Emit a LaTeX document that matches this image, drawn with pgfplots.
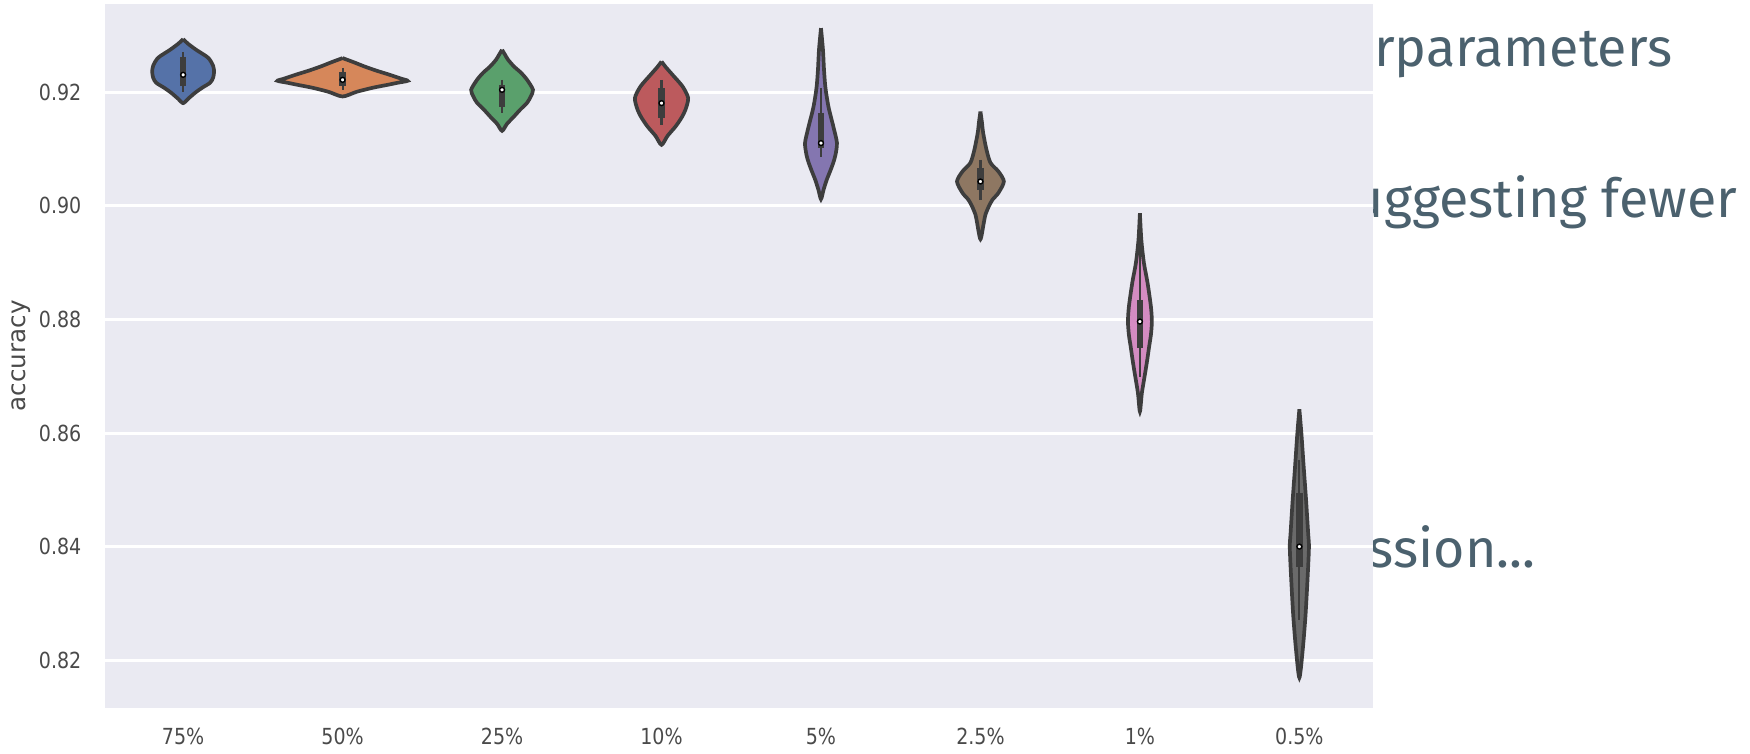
\documentclass[border=0pt]{standalone}
\usepackage{pgfplots}
\pgfplotsset{compat=1.18}
\usepackage{fontspec}
\setmainfont{DejaVu Sans}
\newfontfamily\tickfont[FakeStretch=0.86]{DejaVu Sans}
\newfontfamily\slidefont{Fira Sans}

\definecolor{facebg}{HTML}{EAEAF2}
\definecolor{vedge}{HTML}{3D3D3D}
\definecolor{labelc}{HTML}{4A4A4A}
\definecolor{slidec}{HTML}{4B616E}
\definecolor{vblue}{HTML}{5572A8}
\definecolor{vorange}{HTML}{D6875A}
\definecolor{vgreen}{HTML}{5AA06C}
\definecolor{vred}{HTML}{BC5A5D}
\definecolor{vpurple}{HTML}{8476B0}
\definecolor{vbrown}{HTML}{8E7762}
\definecolor{vpink}{HTML}{D48CC2}
\definecolor{vgrey}{HTML}{6A6A6A}

\pgfplotsset{
  violin/.style={draw=vedge, line width=1.05pt, fill=#1, smooth, tension=0.45},
  whisk/.style={vedge, line width=0.6pt, forget plot},
  vbox/.style={vedge, line width=1.8pt, forget plot},
  vmed/.style={only marks, mark=*, mark size=0.7pt, mark options={fill=white, draw=none}},
}

\begin{document}
\begin{tikzpicture}
\useasboundingbox (0cm,0cm) rectangle (17.5cm,7.53cm);

% slide text partly hidden behind the chart
\begin{scope}
  \clip (13.73cm,0cm) rectangle (17.5cm,7.53cm);
  \node[anchor=base west, inner sep=0pt, text=slidec, font=\slidefont\fontsize{15.3}{18}\selectfont] at (13.735cm,6.86cm) {rparameters};
  \node[anchor=base east, inner sep=0pt, text=slidec, font=\slidefont\fontsize{15.3}{18}\selectfont] at (17.38cm,5.35cm) {uggesting fewer};
  \node[anchor=base east, inner sep=0pt, text=slidec, font=\slidefont\fontsize{15.3}{18}\selectfont] at (15.36cm,1.86cm) {ssion...};
\end{scope}

\begin{axis}[
  at={(1.05cm,0.453cm)}, anchor=south west,
  scale only axis, width=12.677cm, height=7.037cm,
  xmin=-0.49, xmax=7.46, ymin=0.8117, ymax=0.9355,
  axis background/.style={fill=facebg},
  axis line style={draw=none},
  major tick length=0pt,
  ymajorgrids, grid style={white, line width=0.85pt},
  xtick={0,1,2,3,4,5,6,7},
  xticklabels={75\%,50\%,25\%,10\%,5\%,2.5\%,1\%,0.5\%},
  ytick={0.82,0.84,0.86,0.88,0.90,0.92},
  yticklabels={0.82,0.84,0.86,0.88,0.90,0.92},
  /pgf/number format/assume math mode=true,
  ticklabel style={font=\tickfont\fontsize{6.3}{7}\selectfont, text=labelc},
  yticklabel style={inner sep=0pt, xshift=-2.3mm},
  xticklabel style={inner sep=0pt, yshift=-2.0mm},
  ylabel={accuracy},
  ylabel style={at={(axis description cs:-0.066,0.5)}, anchor=center,
    font=\fontsize{7}{8}\selectfont, text=labelc},
  clip=false,
]

% 75%
\addplot[violin=vblue] table[x expr=\thisrow{d}+0, y=y] {
d y
0 0.92933
-0.031 0.92850
-0.082 0.92744
-0.157 0.92604
-0.188 0.92463
-0.194 0.92357
-0.188 0.92252
-0.169 0.92164
-0.119 0.92076
-0.075 0.91988
-0.031 0.91882
0 0.91806
0.031 0.91882
0.075 0.91988
0.119 0.92076
0.169 0.92164
0.188 0.92252
0.194 0.92357
0.188 0.92463
0.157 0.92604
0.082 0.92744
0.031 0.92850
0 0.92933
};
\addplot[whisk] coordinates {(0,0.92709) (0,0.92005)};
\addplot[vbox] coordinates {(0,0.92621) (0,0.92111)};
\addplot[vmed] coordinates {(0,0.92304)};

% 50%
\addplot[violin=vorange] table[x expr=\thisrow{d}+1, y=y] {
d y
0 0.92598
-0.063 0.92533
-0.138 0.92450
-0.215 0.92375
-0.296 0.92304
-0.370 0.92234
-0.408 0.92199
-0.345 0.92164
-0.282 0.92128
-0.188 0.92076
-0.088 0.92005
0 0.91923
0.088 0.92005
0.188 0.92076
0.282 0.92128
0.345 0.92164
0.408 0.92199
0.370 0.92234
0.296 0.92304
0.215 0.92375
0.138 0.92450
0.063 0.92533
0 0.92598
};
\addplot[whisk] coordinates {(1,0.92428) (1,0.92040)};
\addplot[vbox] coordinates {(1,0.92357) (1,0.92111)};
\addplot[vmed] coordinates {(1,0.92216)};

% 25%
\addplot[violin=vgreen] table[x expr=\thisrow{d}+2, y=y] {
d y
0 0.92744
-0.019 0.92656
-0.038 0.92568
-0.075 0.92450
-0.119 0.92340
-0.157 0.92216
-0.194 0.92040
-0.179 0.91917
-0.157 0.91812
-0.113 0.91689
-0.073 0.91565
-0.031 0.91442
0 0.91319
0.031 0.91442
0.073 0.91565
0.113 0.91689
0.157 0.91812
0.179 0.91917
0.194 0.92040
0.157 0.92216
0.119 0.92340
0.075 0.92450
0.038 0.92568
0.019 0.92656
0 0.92744
};
\addplot[whisk] coordinates {(2,0.92216) (2,0.91636)};
\addplot[vbox] coordinates {(2,0.92128) (2,0.91741)};
\addplot[vmed] coordinates {(2,0.92040)};

% 10%
\addplot[violin=vred] table[x expr=\thisrow{d}+3, y=y] {
d y
0 0.92538
-0.025 0.92445
-0.069 0.92304
-0.132 0.92099
-0.167 0.91894
-0.150 0.91689
-0.125 0.91548
-0.088 0.91395
-0.038 0.91231
0 0.91073
0.038 0.91231
0.088 0.91395
0.125 0.91548
0.150 0.91689
0.167 0.91894
0.132 0.92099
0.069 0.92304
0.025 0.92445
0 0.92538
};
\addplot[whisk] coordinates {(3,0.92216) (3,0.91425)};
\addplot[vbox] coordinates {(3,0.92076) (3,0.91548)};
\addplot[vmed] coordinates {(3,0.91806)};

% 5%
\addplot[violin=vpurple] table[x expr=\thisrow{d}+4, y=y] {
d y
0 0.93126
-0.0125 0.92744
-0.019 0.92392
-0.028 0.92076
-0.047 0.91741
-0.078 0.91389
-0.100 0.91108
-0.091 0.90897
-0.077 0.90756
-0.056 0.90598
-0.036 0.90457
-0.016 0.90281
0 0.90117
0.016 0.90281
0.036 0.90457
0.056 0.90598
0.077 0.90756
0.091 0.90897
0.100 0.91108
0.078 0.91389
0.047 0.91741
0.028 0.92076
0.019 0.92392
0.0125 0.92744
0 0.93126
};
\addplot[whisk] coordinates {(4,0.92076) (4,0.90862)};
\addplot[vbox] coordinates {(4,0.91636) (4,0.91020)};
\addplot[vmed] coordinates {(4,0.91103)};

% 2.5%
\addplot[violin=vbrown] table[x expr=\thisrow{d}+5, y=y] {
d y
0 0.91659
-0.009 0.91477
-0.017 0.91284
-0.038 0.90985
-0.063 0.90756
-0.113 0.90603
-0.147 0.90427
-0.113 0.90228
-0.075 0.90105
-0.052 0.89987
-0.031 0.89841
-0.021 0.89700
0 0.89413
0.021 0.89700
0.031 0.89841
0.052 0.89987
0.075 0.90105
0.113 0.90228
0.147 0.90427
0.113 0.90603
0.063 0.90756
0.038 0.90985
0.017 0.91284
0.009 0.91477
0 0.91659
};
\addplot[whisk] coordinates {(5,0.90809) (5,0.90105)};
\addplot[vbox] coordinates {(5,0.90668) (5,0.90281)};
\addplot[vmed] coordinates {(5,0.90427)};

% 1%
\addplot[violin=vpink] table[x expr=\thisrow{d}+6, y=y] {
d y
0 0.89871
-0.009 0.89401
-0.025 0.88996
-0.048 0.88644
-0.069 0.88227
-0.075 0.87963
-0.069 0.87729
-0.058 0.87524
-0.046 0.87290
-0.033 0.87061
-0.0125 0.86709
0 0.86380
0.0125 0.86709
0.033 0.87061
0.046 0.87290
0.058 0.87524
0.069 0.87729
0.075 0.87963
0.069 0.88227
0.048 0.88644
0.025 0.88996
0.009 0.89401
0 0.89871
};
\addplot[whisk] coordinates {(6,0.89345) (6,0.86990)};
\addplot[vbox] coordinates {(6,0.88345) (6,0.87499)};
\addplot[vmed] coordinates {(6,0.87963)};

% 0.5%
\addplot[violin=vgrey] table[x expr=\thisrow{d}+7, y=y] {
d y
0 0.86422
-0.0125 0.86005
-0.027 0.85412
-0.042 0.84826
-0.055 0.84245
-0.060 0.83982
-0.050 0.83366
-0.038 0.82773
-0.021 0.82187
0 0.81699
0.021 0.82187
0.038 0.82773
0.050 0.83366
0.060 0.83982
0.055 0.84245
0.042 0.84826
0.027 0.85412
0.0125 0.86005
0 0.86422
};
\addplot[whisk] coordinates {(7,0.85530) (7,0.82718)};
\addplot[vbox] coordinates {(7,0.84955) (7,0.83653)};
\addplot[vmed] coordinates {(7,0.84004)};

\end{axis}
\end{tikzpicture}
\end{document}
